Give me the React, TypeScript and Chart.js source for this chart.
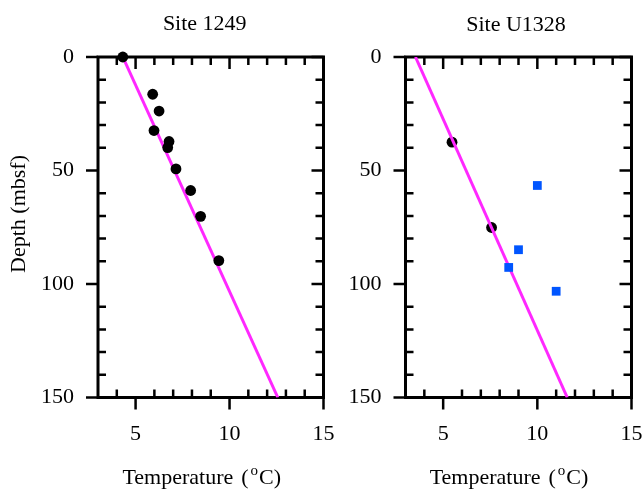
import React, { useEffect, useRef } from "react";
import { Chart, registerables } from "chart.js";

Chart.register(...registerables);

// ---- Data ----
const SITE_1249_TEMP = [4.32, 5.91, 6.25, 5.98, 6.78, 6.71, 7.15, 7.93, 8.46, 9.43];
const SITE_1249_DEPTH = [0, 16.4, 23.8, 32.4, 37.2, 39.9, 49.3, 58.8, 70.2, 89.7];
const SITE_1249_FIT_TEMP = [4.32, 12.57];

const U1328_CIRCLE_TEMP = [5.47, 7.57];
const U1328_CIRCLE_DEPTH = [37.5, 75.1];
const U1328_SQUARE_TEMP = [10.0, 9.0, 8.48, 11.0];
const U1328_SQUARE_DEPTH = [56.6, 84.9, 92.7, 103.2];
const U1328_FIT_TEMP = [3.53, 11.59];

const FIT_DEPTH = [0, 150];

const X_MIN = 3;
const X_MAX = 15;
const Y_MIN = 0;
const Y_MAX = 150;
const X_TICKS = [5, 10, 15];
const X_MINOR = [4, 6, 7, 8, 9, 11, 12, 13, 14];
const Y_TICKS = [0, 50, 100, 150];
const Y_MINOR = [10, 20, 30, 40, 60, 70, 80, 90, 110, 120, 130, 140];

const TITLES = ["Site 1249", "Site U1328"];
const Y_TITLE = "Depth (mbsf)";

// ---- Styles ----
const FONT_FAMILY = '"Liberation Serif", "Times New Roman", serif';
const FONT_SIZE = 22;
const MAGENTA = "rgb(255, 40, 255)";
const BLUE = "rgb(0, 85, 255)";

const pts = (xs: number[], ys: number[]) => xs.map((x, i) => ({ x, y: ys[i] }));

const framePlugin = {
  id: "frameTicks",
  beforeDatasetsDraw(chart: any) {
    const { ctx, chartArea: a, scales } = chart;
    const x = scales.x;
    const y = scales.y;
    const major = 12;
    const minor = 8;
    ctx.save();
    ctx.strokeStyle = "#000";
    ctx.lineWidth = 2.5;
    ctx.beginPath();
    for (const v of X_TICKS) {
      const px = x.getPixelForValue(v);
      ctx.moveTo(px, a.bottom);
      ctx.lineTo(px, a.bottom + major);
      ctx.moveTo(px, a.top);
      ctx.lineTo(px, a.top + major);
    }
    for (const v of X_MINOR) {
      const px = x.getPixelForValue(v);
      ctx.moveTo(px, a.bottom);
      ctx.lineTo(px, a.bottom - minor);
      ctx.moveTo(px, a.top);
      ctx.lineTo(px, a.top + minor);
    }
    for (const v of Y_TICKS) {
      const py = y.getPixelForValue(v);
      ctx.moveTo(a.left, py);
      ctx.lineTo(a.left - major, py);
      ctx.moveTo(a.right, py);
      ctx.lineTo(a.right - major, py);
    }
    for (const v of Y_MINOR) {
      const py = y.getPixelForValue(v);
      ctx.moveTo(a.left, py);
      ctx.lineTo(a.left + minor, py);
      ctx.moveTo(a.right, py);
      ctx.lineTo(a.right - minor, py);
    }
    ctx.stroke();
    ctx.lineWidth = 3;
    ctx.strokeRect(a.left, a.top, a.right - a.left, a.bottom - a.top);
    ctx.restore();
  },
};

function makeTextPlugin(opts: {
  title: string;
  titleDx: number;
  titleY: number;
  xTitleDx: number;
  xTitleY: number;
  yTitle?: { x: number; y: number };
}) {
  return {
    id: "texts",
    afterDraw(chart: any) {
      const { ctx, chartArea: a } = chart;
      const cx = (a.left + a.right) / 2;
      ctx.save();
      ctx.fillStyle = "#000";
      ctx.textBaseline = "alphabetic";
      const big = `${FONT_SIZE}px ${FONT_FAMILY}`;
      const small = `15px ${FONT_FAMILY}`;
      // Title
      ctx.font = big;
      ctx.textAlign = "center";
      ctx.fillText(opts.title, cx + opts.titleDx, opts.titleY);
      // X axis title with superscript
      const p1 = "Temperature";
      const p1b = "(";
      const sup = "o";
      const p2 = "C)";
      ctx.font = big;
      const w1 = ctx.measureText(p1).width;
      const w1b = ctx.measureText(p1b).width;
      const w3 = ctx.measureText(p2).width;
      ctx.font = small;
      const w2 = ctx.measureText(sup).width;
      const gap1 = 8;
      const gap2 = 2;
      const gap3 = 1;
      const total = w1 + gap1 + w1b + gap2 + w2 + gap3 + w3;
      let sx = cx + opts.xTitleDx - total / 2;
      ctx.textAlign = "left";
      ctx.font = big;
      ctx.fillText(p1, sx, opts.xTitleY);
      sx += w1 + gap1;
      ctx.fillText(p1b, sx, opts.xTitleY);
      sx += w1b + gap2;
      ctx.font = small;
      ctx.fillText(sup, sx, opts.xTitleY - 9);
      sx += w2 + gap3;
      ctx.font = big;
      ctx.fillText(p2, sx, opts.xTitleY);
      // Y title
      if (opts.yTitle) {
        ctx.translate(opts.yTitle.x, opts.yTitle.y);
        ctx.rotate(-Math.PI / 2);
        ctx.textAlign = "center";
        ctx.font = big;
        ctx.fillText(Y_TITLE, 0, 0);
      }
      ctx.restore();
    },
  };
}

function makeConfig(datasets: any[], layout: { yAxisWidth: number; padRight: number; xAxisHeight: number }, textPlugin: any) {
  const tickFont = { family: FONT_FAMILY, size: FONT_SIZE };
  const zeroPad = (s: any) => {
    s.paddingLeft = 0;
    s.paddingRight = 0;
    s.paddingTop = 0;
    s.paddingBottom = 0;
  };
  return {
    type: "scatter" as const,
    data: { datasets },
    options: {
      responsive: false,
      animation: false as const,
      events: [],
      layout: { padding: { left: 0, top: 57, right: layout.padRight, bottom: 0 } },
      plugins: {
        legend: { display: false },
        tooltip: { enabled: false },
        title: { display: false },
      },
      scales: {
        x: {
          type: "linear" as const,
          position: "bottom" as const,
          min: X_MIN,
          max: X_MAX,
          grid: { display: false, drawTicks: false, tickLength: 0 },
          border: { display: false },
          ticks: { font: tickFont, color: "#000", padding: 24, maxRotation: 0, autoSkip: false },
          afterBuildTicks: (s: any) => {
            s.ticks = X_TICKS.map((v) => ({ value: v }));
          },
          afterFit: (s: any) => {
            s.height = layout.xAxisHeight;
            zeroPad(s);
          },
        },
        y: {
          type: "linear" as const,
          position: "left" as const,
          reverse: true,
          min: Y_MIN,
          max: Y_MAX,
          grid: { display: false, drawTicks: false, tickLength: 0 },
          border: { display: false },
          ticks: { font: tickFont, color: "#000", padding: 24, autoSkip: false },
          afterBuildTicks: (s: any) => {
            s.ticks = Y_TICKS.map((v) => ({ value: v }));
          },
          afterFit: (s: any) => {
            s.width = layout.yAxisWidth;
            zeroPad(s);
          },
        },
      },
    },
    plugins: [framePlugin, textPlugin],
  };
}

export default function App() {
  const leftRef = useRef<HTMLCanvasElement>(null);
  const rightRef = useRef<HTMLCanvasElement>(null);

  useEffect(() => {
    const leftDatasets = [
      {
        data: pts(SITE_1249_TEMP, SITE_1249_DEPTH),
        pointRadius: 5.4,
        pointBackgroundColor: "#000",
        pointBorderWidth: 0,
        showLine: false,
        clip: false,
        order: 0,
      },
      {
        data: pts(SITE_1249_FIT_TEMP, FIT_DEPTH),
        showLine: true,
        borderColor: MAGENTA,
        borderWidth: 3,
        pointRadius: 0,
        order: 1,
      },
    ];
    const rightDatasets = [
      {
        data: pts(U1328_SQUARE_TEMP, U1328_SQUARE_DEPTH),
        pointStyle: "rect",
        pointRadius: 6.2,
        pointBackgroundColor: BLUE,
        pointBorderWidth: 0,
        showLine: false,
        clip: false,
        order: 0,
      },
      {
        data: pts(U1328_FIT_TEMP, FIT_DEPTH),
        showLine: true,
        borderColor: MAGENTA,
        borderWidth: 3,
        pointRadius: 0,
        order: 1,
      },
      {
        data: pts(U1328_CIRCLE_TEMP, U1328_CIRCLE_DEPTH),
        pointRadius: 5.4,
        pointBackgroundColor: "#000",
        pointBorderWidth: 0,
        showLine: false,
        clip: false,
        order: 2,
      },
    ];

    const left = new Chart(
      leftRef.current as HTMLCanvasElement,
      makeConfig(
        leftDatasets,
        { yAxisWidth: 98, padRight: 16.5, xAxisHeight: 91.5 },
        makeTextPlugin({
          title: TITLES[0],
          titleDx: -6,
          titleY: 29.5,
          xTitleDx: -9,
          xTitleY: 484,
          yTitle: { x: 25, y: 214 },
        })
      ) as any
    );
    const right = new Chart(
      rightRef.current as HTMLCanvasElement,
      makeConfig(
        rightDatasets,
        { yAxisWidth: 65.5, padRight: 12.5, xAxisHeight: 91.5 },
        makeTextPlugin({
          title: TITLES[1],
          titleDx: -2.5,
          titleY: 31,
          xTitleDx: -9.5,
          xTitleY: 484,
        })
      ) as any
    );
    return () => {
      left.destroy();
      right.destroy();
    };
  }, []);

  return (
    <div style={{ position: "absolute", left: 0, top: 0, width: 644, height: 489, background: "#fff" }}>
      <canvas ref={leftRef} width={340} height={489} style={{ position: "absolute", left: 0, top: 0 }} />
      <canvas ref={rightRef} width={304} height={489} style={{ position: "absolute", left: 340, top: 0 }} />
    </div>
  );
}
